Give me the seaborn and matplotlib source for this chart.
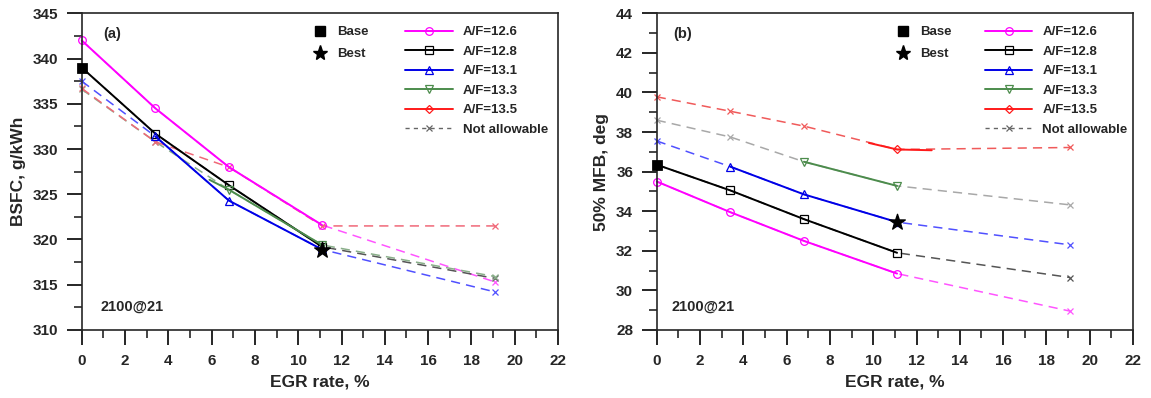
import seaborn as sns
import matplotlib.pyplot as plt
from matplotlib.lines import Line2D
from matplotlib.ticker import MultipleLocator

egr_rate = [0, 3.4, 6.8, 11.1, 19.1]
af_labels = ["A/F=12.6", "A/F=12.8", "A/F=13.1", "A/F=13.3", "A/F=13.5"]

# (a) BSFC, g/kWh
bsfc_126 = [342.0, 334.5, 328.0, 321.6, 315.3]
bsfc_128 = [339.0, 331.7, 326.0, 319.2, 315.7]
bsfc_131 = [337.5, 331.4, 324.3, 318.9, 314.2]
bsfc_133 = [336.6, 330.8, 325.5, 319.4, 315.9]
bsfc_135 = [336.7, 330.8, 328.0, 321.5, 321.5]
# 1 = allowable (solid line), 0 = not allowable (dashed)
bsfc_ok = [[1, 1, 1, 1, 0], [1, 1, 1, 1, 0], [0, 1, 1, 1, 0], [0, 0, 1, 1, 0], [0, 0, 0, 0, 0]]
bsfc_133_solid_x = [5.9, 6.8, 11.1]
bsfc_133_solid = [326.6, 325.5, 319.4]
bsfc_base = 339.0
bsfc_best = 318.8

# (b) 50% MFB, deg
mfb_126 = [35.5, 33.95, 32.5, 30.85, 28.95]
mfb_128 = [36.35, 35.05, 33.6, 31.9, 30.65]
mfb_131 = [37.55, 36.25, 34.85, 33.45, 32.3]
mfb_133 = [38.6, 37.75, 36.5, 35.28, 34.32]
mfb_135 = [39.78, 39.05, 38.3, 37.12, 37.22]
mfb_ok = [[1, 1, 1, 1, 0], [1, 1, 1, 1, 0], [0, 1, 1, 1, 0], [0, 0, 1, 1, 0], [0, 0, 0, 1, 0]]
mfb_135_solid_x = [9.8, 11.1, 12.7]
mfb_135_solid = [37.45, 37.12, 37.08]
mfb_base = 36.35
mfb_best = 33.45

SOLID = ["#ff00ff", "#000000", "#0000e6", "#4c8c4c", "#ff1a1a"]
DASH_A = ["#ff55ff", "#555555", "#5050ff", "#8aaf8a", "#f06878"]
DASH_B = ["#ff55ff", "#555555", "#5050ff", "#a8a8a8", "#f05a5a"]
MARKERS = ["o", "s", "^", "v", "D"]

sns.set_style("ticks")
plt.rcParams["font.family"] = ["Liberation Sans", "DejaVu Sans"]
plt.rcParams["font.weight"] = "bold"
plt.rcParams["axes.labelweight"] = "bold"


def PlotPanel(ax, series, allowed, dash_colors, extras, base, best, ylim, ystep,
              ylabel, tag, tag_x, leg_x):
    for y, ok, dcol in zip(series, allowed, dash_colors):
        sns.lineplot(x=egr_rate, y=y, ax=ax, color=dcol, lw=1.1, ls=(0, (6, 4)),
                     marker="x", ms=5, mew=0.9, mec=dcol,
                     markevery=[i for i, v in enumerate(ok) if not v],
                     estimator=None, sort=False, legend=False, clip_on=False)
    for k, (y, ok) in enumerate(zip(series, allowed)):
        if k in extras:
            sx, sy = extras[k]
        else:
            sx = [x for x, v in zip(egr_rate, ok) if v]
            sy = [yy for yy, v in zip(y, ok) if v]
        if not sx:
            continue
        marks = [i for i, x in enumerate(sx) if x in egr_rate]
        sns.lineplot(x=sx, y=sy, ax=ax, color=SOLID[k], lw=1.4,
                     marker=MARKERS[k], ms=5.5 if k != 4 else 4.5, mfc="none",
                     mec=SOLID[k], mew=0.9, markevery=marks,
                     estimator=None, sort=False, legend=False, clip_on=False)

    sns.scatterplot(x=[0], y=[base], ax=ax, marker="s", s=48, color="black",
                    edgecolor="black", zorder=5, clip_on=False, legend=False)
    sns.scatterplot(x=[11.1], y=[best], ax=ax, marker="*", s=140, color="black",
                    edgecolor="black", zorder=5, clip_on=False, legend=False)

    ax.set_xlim(0, 22)
    ax.set_ylim(*ylim)
    ax.xaxis.set_major_locator(MultipleLocator(2))
    ax.xaxis.set_minor_locator(MultipleLocator(1))
    ax.yaxis.set_major_locator(MultipleLocator(ystep))
    ax.yaxis.set_minor_locator(MultipleLocator(ystep / 2))
    ax.tick_params(which="major", direction="out", length=11, width=1.4,
                   labelsize=11, pad=6, top=False, right=False)
    ax.tick_params(which="minor", direction="out", length=6, width=1.2,
                   top=False, right=False)
    for sp in ax.spines.values():
        sp.set_linewidth(1.2)
    ax.set_xlabel("EGR rate, %", fontsize=12.5, labelpad=5)
    ax.set_ylabel(ylabel, fontsize=12.5, labelpad=5)

    ax.text(tag_x, 0.935, tag, transform=ax.transAxes, fontsize=10.5, va="center")
    ax.text(tag_x - 0.005, 0.075, "2100@21", transform=ax.transAxes, fontsize=10.5,
            va="center")

    mark_handles = [
        Line2D([], [], ls="none", marker="s", ms=7, color="black"),
        Line2D([], [], ls="none", marker="*", ms=11, color="black"),
    ]
    leg1 = ax.legend(mark_handles, ["Base", "Best"], loc="upper left",
                     bbox_to_anchor=(leg_x[0], 0.96), frameon=False, fontsize=9.5,
                     handlelength=1.0, handletextpad=0.8, labelspacing=0.75,
                     borderpad=0, borderaxespad=0)
    ax.add_artist(leg1)
    line_handles = [
        Line2D([], [], color=SOLID[k], lw=1.4, marker=MARKERS[k],
               ms=5.5 if k != 4 else 4.5, mfc="none", mew=0.9)
        for k in range(5)
    ]
    line_handles.append(Line2D([], [], color="#666666", lw=1.0, ls=(0, (3, 3)),
                               marker="x", ms=5, mew=0.9))
    ax.legend(line_handles, af_labels + ["Not allowable"], loc="upper left",
              bbox_to_anchor=(leg_x[1], 0.96), frameon=False, fontsize=9.5,
              handlelength=3.6, handletextpad=0.75, labelspacing=0.55,
              borderpad=0, borderaxespad=0)


fig = plt.figure(figsize=(11.51, 3.98), dpi=100)
ax_a = fig.add_axes([0.0710, 0.1709, 0.4138, 0.7957])
ax_b = fig.add_axes([0.5706, 0.1709, 0.4138, 0.7957])

PlotPanel(ax_a, [bsfc_126, bsfc_128, bsfc_131, bsfc_133, bsfc_135], bsfc_ok, DASH_A,
          {3: (bsfc_133_solid_x, bsfc_133_solid)}, bsfc_base, bsfc_best,
          (310, 345), 5, "BSFC, g/kWh", "(a)", 0.045, (0.486, 0.679))
PlotPanel(ax_b, [mfb_126, mfb_128, mfb_131, mfb_133, mfb_135], mfb_ok, DASH_B,
          {4: (mfb_135_solid_x, mfb_135_solid)}, mfb_base, mfb_best,
          (28, 44), 2, "50% MFB, deg", "(b)", 0.035, (0.503, 0.689))

fig.savefig("out.png", dpi=100)
